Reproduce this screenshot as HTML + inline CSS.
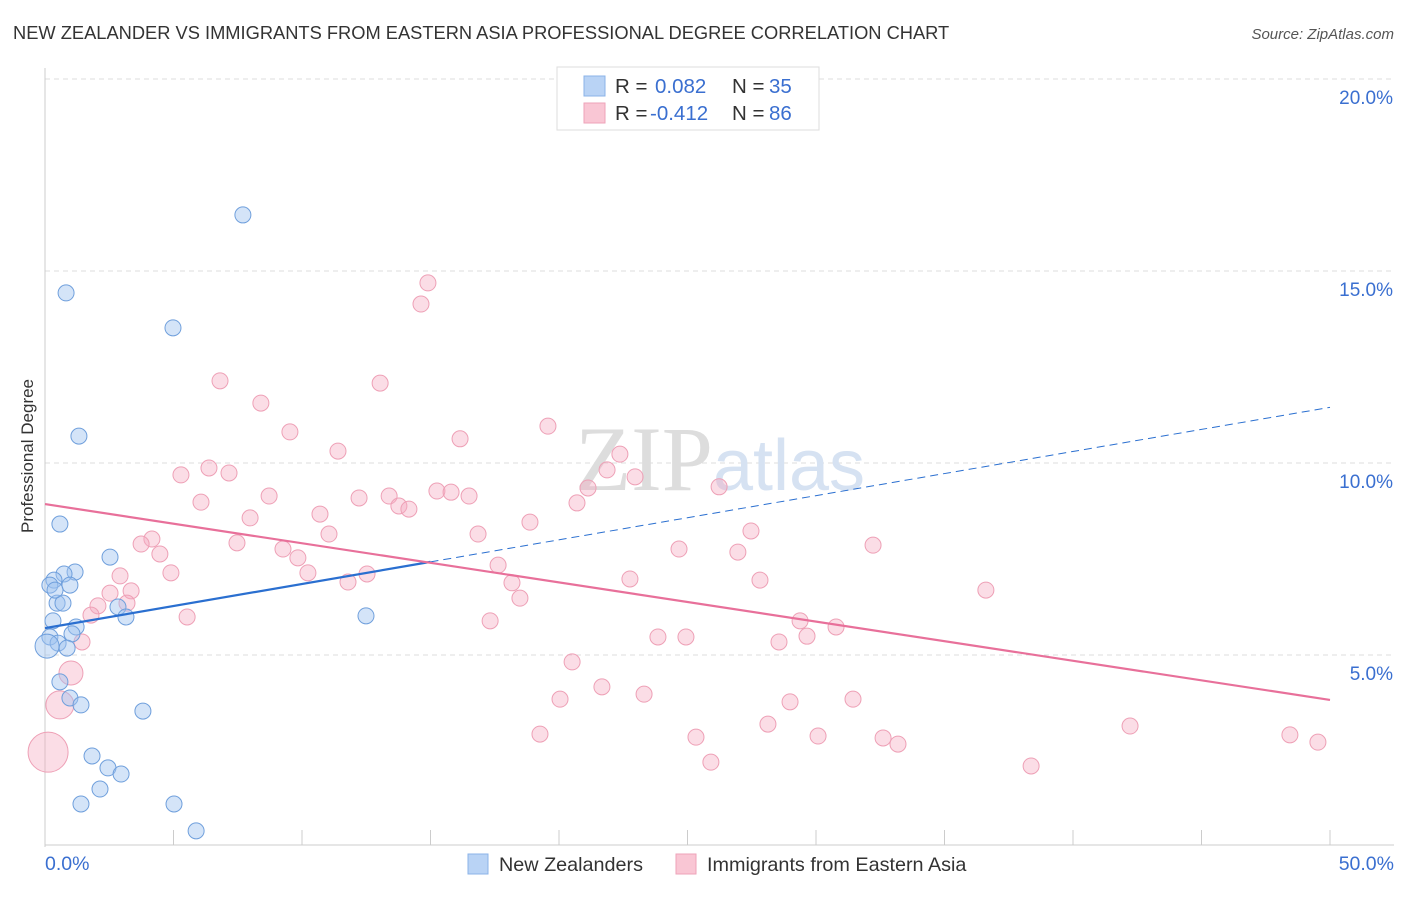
<!DOCTYPE html>
<html><head><meta charset="utf-8"><style>
body{margin:0;background:#fff;font-family:"Liberation Sans",sans-serif}
svg text{font-family:"Liberation Sans",sans-serif}
</style></head><body>
<svg id="chart" width="1406" height="892" viewBox="0 0 1406 892" xmlns="http://www.w3.org/2000/svg">
<text x="13" y="39" font-size="18.3" fill="#333">NEW ZEALANDER VS IMMIGRANTS FROM EASTERN ASIA PROFESSIONAL DEGREE CORRELATION CHART</text>
<text x="1394" y="39" font-size="15" fill="#555" font-style="italic" text-anchor="end">Source: ZipAtlas.com</text>
<g id="grid"></g>
<g id="axes"></g>
<text x="720" y="490" font-size="92" text-anchor="middle" fill="#e4e4e4"><tspan font-family="Liberation Serif" fill="#ddd">ZIP</tspan><tspan fill="#d6e2f2" font-size="72">atlas</tspan></text>
<g id="pts"></g>
<g id="lines"></g>
<text transform="translate(33,456) rotate(-90)" font-size="17" fill="#333" text-anchor="middle">Professional Degree</text>
<g>
<rect x="557" y="67" width="262" height="63" fill="#fff" stroke="#ddd"/>
<rect x="584" y="76" width="21" height="20" fill="#b9d3f5" stroke="#8bb3e8"/>
<rect x="584" y="103" width="21" height="20" fill="#f9c6d4" stroke="#eea3b9"/>
<text x="615" y="93" font-size="20.5" fill="#333">R = </text><text x="655" y="93" font-size="20.5" fill="#3a6fd0">0.082</text>
<text x="732" y="93" font-size="20.5" fill="#333">N = </text><text x="769" y="93" font-size="20.5" fill="#3a6fd0">35</text>
<text x="615" y="120" font-size="20.5" fill="#333">R = </text><text x="650" y="120" font-size="20.5" fill="#3a6fd0">-0.412</text>
<text x="732" y="120" font-size="20.5" fill="#333">N = </text><text x="769" y="120" font-size="20.5" fill="#3a6fd0">86</text>
</g>
<g>
<rect x="468" y="854" width="20" height="20" fill="#b9d3f5" stroke="#8bb3e8"/>
<text x="499" y="871" font-size="19.8" fill="#333">New Zealanders</text>
<rect x="676" y="854" width="20" height="20" fill="#f9c6d4" stroke="#eea3b9"/>
<text x="707" y="871" font-size="19.8" fill="#333">Immigrants from Eastern Asia</text>
</g>
</svg>
<script>
const yTicks=[5,10,15,20];
const yTickLabels=["5.0%","10.0%","15.0%","20.0%"];
const xTickVals=[0,5,10,15,20,25,30,35,40,45,50];
const blueX=[7.70,0.82,4.98,1.32,0.58,2.53,1.17,0.74,0.35,0.19,0.97,0.47,0.70,2.84,3.15,12.49,0.31,1.21,1.05,0.19,0.51,0.86,0.08,0.58,0.97,1.40,3.81,1.83,2.45,2.96,2.14,1.40,5.02,5.88,0.39];
const blueY=[16.46,14.43,13.52,10.70,8.41,7.55,7.16,7.11,6.95,6.82,6.82,6.35,6.35,6.25,5.99,6.02,5.89,5.73,5.55,5.47,5.31,5.18,5.23,4.30,3.88,3.70,3.54,2.37,2.06,1.90,1.51,1.12,1.12,0.42,6.69];
const blueR=[8,8,8,8,8,8,8,8,8,8,8,8,8,8,8,8,8,8,8,8,8,8,12,8,8,8,8,8,8,8,8,8,8,8,8];
const pinkX=[14.90,14.63,6.81,13.04,8.40,9.53,19.57,16.15,11.40,22.37,5.29,6.38,7.16,21.87,22.96,26.23,8.72,6.07,12.22,13.39,15.25,15.80,16.50,13.77,14.16,21.13,20.70,7.98,10.70,18.87,11.05,16.85,27.47,4.16,7.47,3.74,4.47,9.26,9.84,24.67,26.96,32.22,17.63,10.23,4.90,2.92,12.53,11.79,18.17,22.76,27.82,2.53,3.35,36.61,3.19,2.06,1.79,5.53,18.48,17.32,29.38,30.78,1.44,23.85,24.94,28.56,29.65,20.51,1.01,21.67,23.31,20.04,28.99,31.44,0.58,28.13,42.22,19.26,25.33,30.08,32.61,33.19,48.44,49.53,25.91,38.37,0.12];
const pinkY=[14.69,14.14,12.14,12.08,11.56,10.81,10.96,10.63,10.31,10.23,9.69,9.87,9.74,9.82,9.64,9.38,9.14,8.98,9.09,9.14,9.27,9.24,9.14,8.88,8.80,9.35,8.96,8.57,8.67,8.46,8.15,8.15,8.23,8.02,7.92,7.89,7.63,7.76,7.53,7.76,7.68,7.86,7.34,7.14,7.14,7.06,7.11,6.90,6.88,6.98,6.95,6.61,6.67,6.69,6.35,6.28,6.04,5.99,6.48,5.89,5.89,5.73,5.34,5.47,5.47,5.34,5.49,4.82,4.53,4.17,3.98,3.85,3.78,3.85,3.70,3.20,3.15,2.94,2.86,2.89,2.84,2.68,2.92,2.73,2.21,2.11,2.47];
const pinkBig={68:12,74:14,86:20};
const blueTrend=[5.70,11.45];
const pinkTrend=[8.93,3.83];
const X0=45,X1=1330,Y0=847,PX=38.4;
const sx=v=>X0+(X1-X0)*v/50, sy=v=>Y0-v*PX;
const NS='http://www.w3.org/2000/svg';
function mk(t,a,p){const e=document.createElementNS(NS,t);for(const k in a)e.setAttribute(k,a[k]);p.appendChild(e);return e;}
const grid=document.getElementById('grid'),axes=document.getElementById('axes'),pts=document.getElementById('pts'),lines=document.getElementById('lines');
yTicks.forEach((v,i)=>{
 const l=mk('line',{x1:X0,x2:1394,y1:sy(v),y2:sy(v),stroke:'#ddd','stroke-dasharray':'5,4'},grid);
 
 
 const t=mk('text',{x:1393,y:sy(v)+25,'font-size':19,fill:'#3a6fd0','text-anchor':'end'},axes);
 t.textContent=yTickLabels[i];
 
 
});
mk('line',{x1:X0,x2:X0,y1:68,y2:Y0,stroke:'#ccc'},axes);
mk('line',{x1:X0,x2:1394,y1:845,y2:845,stroke:'#ccc'},axes);
xTickVals.forEach(v=>{const l=mk('line',{x1:sx(v),x2:sx(v),y1:830,y2:845,stroke:'#ccc'},axes);
 
 });
const xl=mk('text',{x:45,y:870,'font-size':19.5,fill:'#3a6fd0'},axes);xl.textContent='0.0%';


const xr=mk('text',{x:1394,y:870,'font-size':19.5,fill:'#3a6fd0','text-anchor':'end'},axes);xr.textContent='50.0%';


pinkX.forEach((v,i)=>{const c=mk('circle',{cx:sx(v),cy:sy(pinkY[i]),r:pinkBig[i]||8,fill:'rgba(245,170,192,0.4)',stroke:'#eea0b6','stroke-width':1},pts);
 
 });
blueX.forEach((v,i)=>{const c=mk('circle',{cx:sx(v),cy:sy(blueY[i]),r:blueR[i],fill:'rgba(160,195,240,0.45)',stroke:'#6f9fdc','stroke-width':1},pts);
 
 });
const bm=x=>blueTrend[0]+(blueTrend[1]-blueTrend[0])*x/50;
const b1=mk('line',{x1:sx(0),y1:sy(bm(0)),x2:sx(15),y2:sy(bm(15)),stroke:'#2a6fd0','stroke-width':2.2},lines);


const b2=mk('line',{x1:sx(15),y1:sy(bm(15)),x2:sx(50),y2:sy(bm(50)),stroke:'#2a6fd0','stroke-width':1,'stroke-dasharray':'8,5'},lines);


const p1=mk('line',{x1:sx(0),y1:sy(pinkTrend[0]),x2:sx(50),y2:sy(pinkTrend[1]),stroke:'#e8709a','stroke-width':2.2},lines);


</script>
</body></html>
